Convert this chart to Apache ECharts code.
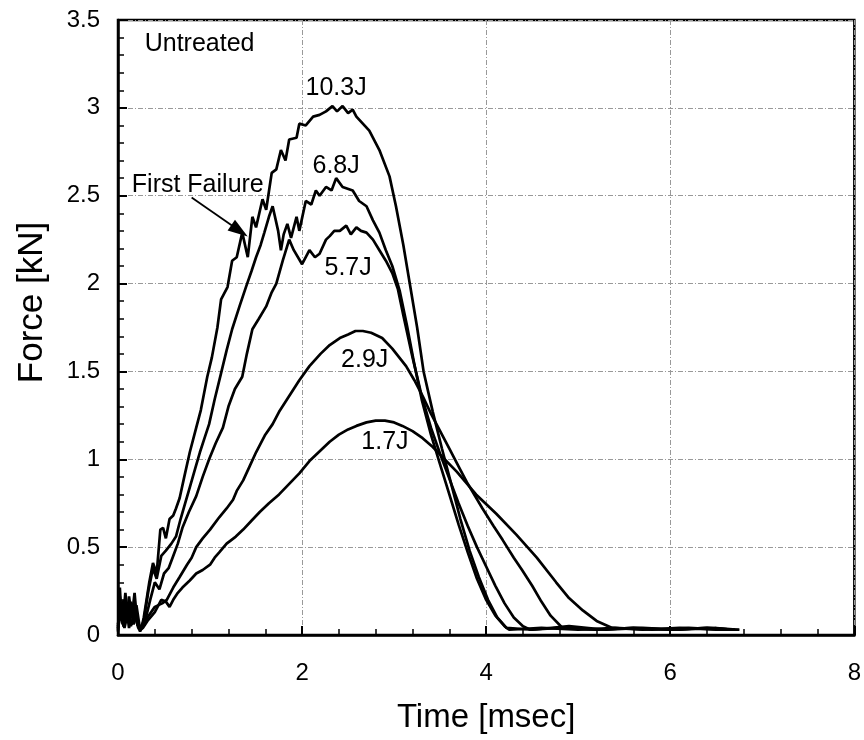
<!DOCTYPE html>
<html>
<head>
<meta charset="utf-8">
<script src="https://cdn.jsdelivr.net/npm/echarts@6/dist/echarts.min.js"></script>
<style>html,body{margin:0;padding:0;background:#fff}#c{width:864px;height:740px}</style>
</head>
<body>
<div id="c"></div>
<script>
// Time [msec], Force [kN] pairs
const curve103 = [[0,0.02],[0.02,0.27],[0.04,0.08],[0.06,0.2],[0.09,0.07],[0.12,0.22],[0.15,0.1],[0.18,0.24],[0.21,0.06],[0.25,0.03],[0.28,0.1],[0.31,0.2],[0.34,0.3],[0.38,0.41],[0.42,0.35],[0.46,0.6],[0.49,0.61],[0.52,0.55],[0.56,0.66],[0.6,0.68],[0.63,0.72],[0.67,0.78],[0.72,0.9],[0.78,1.04],[0.85,1.18],[0.9,1.28],[0.97,1.47],[1.02,1.58],[1.08,1.75],[1.12,1.91],[1.19,1.98],[1.24,2.13],[1.29,2.15],[1.35,2.29],[1.41,2.15],[1.46,2.38],[1.5,2.32],[1.57,2.48],[1.61,2.42],[1.67,2.63],[1.72,2.65],[1.77,2.76],[1.82,2.7],[1.86,2.82],[1.94,2.83],[1.97,2.91],[2.04,2.9],[2.12,2.95],[2.19,2.96],[2.26,2.98],[2.33,3.01],[2.38,2.98],[2.44,3.01],[2.5,2.97],[2.55,2.99],[2.59,2.95],[2.66,2.91],[2.73,2.87],[2.84,2.76],[2.95,2.61],[3.02,2.44],[3.1,2.22],[3.17,2.0],[3.25,1.75],[3.32,1.5],[3.42,1.27],[3.52,1.06],[3.62,0.86],[3.72,0.66],[3.82,0.48],[3.92,0.33],[4.02,0.2],[4.12,0.1],[4.22,0.04],[4.5,0.03],[4.9,0.05],[5.3,0.03],[5.7,0.04],[6.1,0.03],[6.5,0.04],[6.75,0.03]];
const curve68 = [[0,0.04],[0.02,0.22],[0.05,0.06],[0.08,0.24],[0.11,0.09],[0.14,0.19],[0.17,0.06],[0.2,0.17],[0.24,0.03],[0.28,0.08],[0.33,0.25],[0.38,0.38],[0.42,0.32],[0.47,0.45],[0.52,0.48],[0.58,0.52],[0.63,0.56],[0.68,0.66],[0.73,0.75],[0.78,0.84],[0.84,0.95],[0.89,1.04],[0.94,1.12],[0.99,1.2],[1.05,1.34],[1.12,1.49],[1.18,1.62],[1.24,1.74],[1.32,1.87],[1.39,1.98],[1.45,2.07],[1.5,2.15],[1.55,2.22],[1.59,2.29],[1.64,2.38],[1.68,2.44],[1.74,2.3],[1.77,2.19],[1.8,2.28],[1.84,2.34],[1.88,2.26],[1.94,2.38],[1.97,2.3],[2.04,2.47],[2.1,2.45],[2.15,2.53],[2.19,2.5],[2.26,2.55],[2.32,2.53],[2.37,2.6],[2.44,2.55],[2.55,2.53],[2.62,2.47],[2.7,2.44],[2.77,2.36],[2.84,2.29],[2.91,2.19],[2.98,2.1],[3.06,1.96],[3.14,1.76],[3.22,1.54],[3.3,1.34],[3.4,1.14],[3.5,0.97],[3.6,0.8],[3.7,0.63],[3.8,0.47],[3.9,0.32],[4.0,0.2],[4.1,0.11],[4.2,0.05],[4.25,0.03],[4.6,0.04],[5.0,0.03],[5.4,0.04],[5.8,0.03],[6.2,0.04],[6.6,0.03],[6.7,0.03]];
const curve57 = [[0,0.06],[0.03,0.18],[0.06,0.05],[0.09,0.16],[0.12,0.04],[0.16,0.18],[0.2,0.08],[0.24,0.02],[0.29,0.07],[0.35,0.2],[0.4,0.3],[0.45,0.26],[0.5,0.35],[0.55,0.38],[0.6,0.45],[0.65,0.52],[0.7,0.61],[0.77,0.7],[0.85,0.79],[0.92,0.9],[0.99,1.0],[1.06,1.09],[1.14,1.18],[1.2,1.3],[1.27,1.4],[1.35,1.47],[1.4,1.6],[1.46,1.74],[1.53,1.8],[1.61,1.87],[1.67,1.95],[1.72,2.0],[1.79,2.13],[1.86,2.25],[1.91,2.19],[2.0,2.11],[2.08,2.19],[2.14,2.15],[2.19,2.17],[2.26,2.25],[2.3,2.27],[2.35,2.3],[2.41,2.3],[2.48,2.33],[2.53,2.28],[2.59,2.32],[2.64,2.3],[2.7,2.29],[2.77,2.25],[2.84,2.19],[2.91,2.13],[2.98,2.06],[3.04,1.97],[3.1,1.82],[3.2,1.58],[3.3,1.36],[3.4,1.18],[3.5,1.03],[3.6,0.89],[3.7,0.75],[3.8,0.62],[3.9,0.5],[4.0,0.39],[4.1,0.28],[4.2,0.18],[4.3,0.1],[4.4,0.05],[4.48,0.03],[4.8,0.04],[5.2,0.03],[5.6,0.04],[6.0,0.03],[6.4,0.04],[6.7,0.03]];
const curve29 = [[0,0.03],[0.03,0.15],[0.06,0.05],[0.1,0.14],[0.14,0.05],[0.18,0.13],[0.22,0.04],[0.27,0.05],[0.32,0.1],[0.4,0.16],[0.48,0.18],[0.53,0.2],[0.6,0.27],[0.67,0.33],[0.75,0.4],[0.8,0.44],[0.85,0.5],[0.92,0.55],[1.0,0.6],[1.1,0.67],[1.18,0.72],[1.25,0.77],[1.29,0.82],[1.36,0.88],[1.43,0.96],[1.5,1.04],[1.6,1.14],[1.68,1.2],[1.75,1.27],[1.86,1.36],[1.97,1.45],[2.08,1.53],[2.2,1.6],[2.3,1.65],[2.41,1.69],[2.5,1.71],[2.58,1.73],[2.66,1.73],[2.75,1.72],[2.87,1.69],[2.98,1.63],[3.07,1.57],[3.13,1.53],[3.22,1.45],[3.31,1.36],[3.4,1.26],[3.49,1.17],[3.6,1.06],[3.7,0.96],[3.79,0.87],[3.96,0.72],[4.08,0.62],[4.18,0.54],[4.3,0.44],[4.39,0.37],[4.5,0.28],[4.6,0.19],[4.7,0.11],[4.83,0.04],[5.2,0.03],[5.6,0.04],[6.0,0.03],[6.4,0.04],[6.7,0.03]];
const curve17 = [[0,0.05],[0.03,0.12],[0.07,0.04],[0.11,0.13],[0.15,0.06],[0.19,0.12],[0.23,0.03],[0.27,0.04],[0.32,0.08],[0.4,0.13],[0.47,0.2],[0.52,0.19],[0.56,0.16],[0.6,0.2],[0.65,0.24],[0.7,0.27],[0.78,0.31],[0.85,0.35],[0.92,0.37],[1.0,0.4],[1.05,0.44],[1.1,0.47],[1.18,0.52],[1.28,0.56],[1.36,0.6],[1.45,0.65],[1.54,0.7],[1.64,0.75],[1.75,0.8],[1.86,0.86],[1.97,0.92],[2.08,0.99],[2.2,1.05],[2.3,1.1],[2.4,1.14],[2.5,1.17],[2.59,1.19],[2.7,1.21],[2.8,1.22],[2.9,1.22],[3.0,1.21],[3.09,1.19],[3.2,1.16],[3.31,1.12],[3.42,1.07],[3.53,1.01],[3.68,0.93],[3.89,0.8],[4.11,0.69],[4.33,0.57],[4.55,0.44],[4.76,0.3],[4.9,0.21],[5.05,0.14],[5.2,0.08],[5.37,0.04],[5.7,0.03],[6.1,0.04],[6.5,0.03],[6.75,0.03]];

const xTicks = [0, 2, 4, 6, 8];
const yTicks = [0, 0.5, 1, 1.5, 2, 2.5, 3, 3.5];

// annotation texts and their anchor points in data units
const noteTexts = ['Untreated', '10.3J', '6.8J', '5.7J', '2.9J', '1.7J', 'First Failure'];
const noteX = [0.29, 2.37, 2.37, 2.5, 2.68, 2.9, 0.15];
const noteY = [3.36, 3.11, 2.67, 2.09, 1.565, 1.1, 2.56];
const noteAlign = ['left', 'center', 'center', 'center', 'center', 'center', 'left'];
const arrowFrom = [0.8, 2.49];
const arrowTo = [1.32, 2.3];

const FONT = '"Liberation Sans", Arial, Helvetica, sans-serif';
const chart = echarts.init(document.getElementById('c'), null, {renderer: 'canvas'});

const curves = [curve103, curve68, curve57, curve29, curve17];
const series = curves.map(d => ({
  type: 'line', data: d, showSymbol: false, symbol: 'none', smooth: false,
  lineStyle: {color: '#000', width: 2.7}, z: 3
}));

series.push({
  type: 'scatter', symbolSize: 0, z: 5,
  itemStyle: {opacity: 1, color: '#000'},
  data: noteTexts.map((t, i) => ({
    value: [noteX[i], noteY[i]],
    label: {show: true, position: 'inside', formatter: t, align: noteAlign[i],
      verticalAlign: 'middle', color: '#000', opacity: 1, textBorderWidth: 0,
      fontSize: 25, fontFamily: FONT}
  })),
  markLine: {
    silent: true, symbol: ['none', 'triangle'], symbolSize: [13, 20],
    lineStyle: {color: '#000', width: 1.8, type: 'solid', opacity: 1}, label: {show: false},
    data: [[{coord: arrowFrom}, {coord: arrowTo}]]
  }
});

chart.setOption({
  animation: false,
  backgroundColor: '#fff',
  grid: {left: 118, right: 9, top: 20, bottom: 105, show: true, borderColor: '#000', borderWidth: 2.5},
  xAxis: {
    type: 'value', min: xTicks[0], max: xTicks[xTicks.length - 1], interval: 2,
    name: 'Time [msec]', nameLocation: 'middle', nameGap: 66,
    nameTextStyle: {fontSize: 33, fontFamily: FONT, color: '#000'},
    axisLine: {show: true, onZero: false, lineStyle: {color: '#000', width: 2.5}},
    axisTick: {show: true, inside: true, length: 9, lineStyle: {color: '#000', width: 2}},
    minorTick: {show: true, splitNumber: 5, length: 6, lineStyle: {color: '#000', width: 1.5}},
    axisLabel: {fontSize: 24, fontFamily: FONT, color: '#000', margin: 26},
    splitLine: {show: true, lineStyle: {color: '#999', width: 1, type: [5, 2, 1, 2]}}
  },
  yAxis: {
    type: 'value', min: yTicks[0], max: yTicks[yTicks.length - 1], interval: 0.5,
    name: 'Force [kN]', nameLocation: 'middle', nameGap: 68, nameRotate: 90,
    nameTextStyle: {fontSize: 35, fontFamily: FONT, color: '#000', padding: [0, 0, 0, 50]},
    axisLine: {show: true, onZero: false, lineStyle: {color: '#000', width: 2.5}},
    axisTick: {show: true, inside: true, length: 9, lineStyle: {color: '#000', width: 2}},
    minorTick: {show: true, splitNumber: 5, length: 6, lineStyle: {color: '#000', width: 1.5}},
    axisLabel: {fontSize: 24, fontFamily: FONT, color: '#000', margin: 18},
    splitLine: {show: true, lineStyle: {color: '#999', width: 1, type: [5, 2, 1, 2]}}
  },
  series: series
});
</script>
</body>
</html>
